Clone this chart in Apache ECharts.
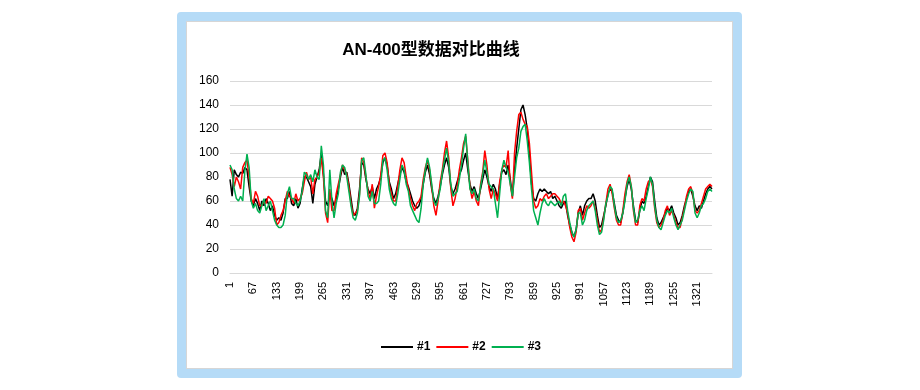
<!DOCTYPE html>
<html>
<head>
<meta charset="utf-8">
<script src="https://cdn.jsdelivr.net/npm/echarts@6/dist/echarts.min.js"></script>
<style>
html,body{margin:0;padding:0;background:#fff;}
#box{position:absolute;left:177px;top:12px;width:547px;height:348px;border:9px solid #b5dbf7;border-radius:4px;}
#inner{position:absolute;left:0;top:0;right:0;bottom:0;border:1px solid #d6d6d6;background:#fff;}
#chart{position:absolute;left:0;top:0;width:920px;height:390px;}
</style>
</head>
<body>
<div id="box"><div id="inner"></div></div>
<div id="chart"></div>
<script>
const titleText = 'AN-400型数据对比曲线';
const seriesNames = ['#1', '#2', '#3'];
const sampleStep = 6;      // one reading every 6 samples
const firstSample = 1;
const yTicks = { min: 0, max: 160, interval: 20 };

const s1 = [78,64,86,82,80,84,83,88,86,72,
60,56,62,58,52,60,56,62,58,52,
56,48,44,46,44,50,62,62,68,58,
56,62,54,58,70,80,80,76,72,58,
74,80,86,100,82,60,56,66,62,56,
62,70,80,88,82,84,74,62,50,48,
54,70,92,90,78,70,66,72,62,70,
74,80,92,96,90,76,70,62,66,74,
82,88,84,76,72,66,60,56,54,56,
62,74,84,90,82,70,62,58,64,72,
82,90,96,88,72,66,70,76,82,86,
94,100,86,74,68,72,66,62,70,78,
86,80,72,68,74,70,62,74,84,86,
82,90,78,64,86,104,120,136,140,132,
120,100,74,62,60,66,70,68,70,68,
66,68,62,64,60,56,54,58,60,48,
40,34,30,36,50,56,48,56,60,62,
62,66,60,48,38,40,48,56,66,70,
68,58,48,44,42,50,62,72,78,70,
56,44,42,52,60,58,64,72,80,76,
60,46,40,42,46,50,54,52,56,50,
46,40,42,48,56,62,68,70,64,56,
52,56,54,60,66,70,72,70];

const s2 = [88,82,72,80,76,70,88,92,94,80,
62,58,68,64,56,56,60,58,64,62,
60,54,40,42,48,52,60,68,64,62,
58,66,60,62,66,76,84,78,80,66,
78,80,84,96,80,50,42,70,52,52,
66,74,82,90,86,82,72,58,48,50,
52,66,96,92,80,68,62,74,54,64,
72,82,98,100,92,74,66,60,60,72,
86,96,92,80,70,62,56,52,58,60,
64,78,88,94,86,72,56,48,60,76,
86,100,110,96,70,56,62,72,86,96,
108,114,94,72,62,68,60,56,74,84,
102,90,70,62,70,66,60,76,86,90,
88,102,74,62,100,118,132,134,128,124,
122,108,84,60,54,56,62,60,64,66,
62,64,66,66,64,62,58,60,56,50,
38,30,26,34,52,54,44,50,56,54,
56,60,54,44,34,36,46,58,70,74,
66,54,44,40,40,52,66,76,82,72,
52,40,40,56,62,60,70,76,78,72,
54,42,38,40,44,52,56,48,52,48,
42,38,38,46,54,64,70,72,66,52,
50,52,58,64,70,72,74,72];

const s3 = [90,86,70,62,60,64,60,85,99,88,
60,54,58,52,50,56,62,52,56,60,
52,44,40,38,38,40,48,66,72,62,
62,58,56,60,68,84,82,78,82,76,
86,80,78,106,90,52,46,86,60,46,
58,66,84,90,88,80,68,56,46,44,
50,64,94,96,82,64,60,68,58,58,
60,74,94,96,86,70,62,58,56,66,
78,90,86,74,68,56,52,48,44,42,
54,74,86,96,88,74,60,56,62,70,
84,94,104,92,74,64,66,68,78,90,
104,116,92,70,66,70,62,60,72,82,
94,84,74,72,70,58,46,66,86,94,
88,84,74,64,80,96,104,118,122,124,
110,92,70,52,46,40,50,58,62,58,
56,60,58,56,58,60,56,64,66,52,
42,34,30,36,50,50,40,44,52,56,
58,60,52,40,32,34,44,58,64,72,
70,56,46,42,44,50,60,74,80,72,
54,42,44,52,56,52,62,70,80,74,
56,44,38,36,42,48,52,50,54,46,
40,36,40,44,52,60,66,70,68,50,
46,50,56,58,62,68,70,68];

const categories = [];
for (let k = 0; k < s1.length; k++) categories.push(String(firstSample + k * sampleStep));

const colors = ['#000000', '#ff0000', '#00b050'];
const chart = echarts.init(document.getElementById('chart'), null, { renderer: 'canvas' });
const font = '"Liberation Sans", Arial, "Noto Sans CJK SC", sans-serif';

chart.setOption({
  backgroundColor: 'transparent',
  animation: false,
  title: {
    text: titleText,
    left: 426, top: 37, textAlign: 'center',
    textStyle: { fontFamily: font, fontSize: 17, fontWeight: 'bold', color: '#000' }
  },
  grid: { left: 230, right: 208, top: 81, bottom: 117, containLabel: false },
  legend: {
    left: 376, top: 336,
    itemWidth: 32, itemHeight: 2, itemGap: 6,
    icon: 'rect',
    data: seriesNames,
    textStyle: { fontFamily: font, fontSize: 12, fontWeight: 'bold', color: '#000', padding: [0, 0, 0, -1] }
  },
  xAxis: {
    type: 'category',
    data: categories,
    boundaryGap: false,
    axisLine: { show: true, lineStyle: { color: '#d9d9d9', width: 1 } },
    axisTick: { show: false },
    axisLabel: {
      interval: 10, rotate: 90, margin: 9,
      fontFamily: font, fontSize: 11, color: '#000'
    },
    splitLine: { show: false }
  },
  yAxis: {
    type: 'value',
    min: yTicks.min, max: yTicks.max, interval: yTicks.interval,
    axisLine: { show: false },
    axisTick: { show: false },
    axisLabel: { margin: 11, fontFamily: font, fontSize: 12, color: '#000' },
    splitLine: { lineStyle: { color: '#d9d9d9', width: 1 } }
  },
  series: [s1, s2, s3].map((d, i) => ({
    name: seriesNames[i],
    type: 'line',
    data: d,
    showSymbol: false,
    symbol: 'none',
    lineStyle: { color: colors[i], width: 1.5 },
    itemStyle: { color: colors[i] },
    z: 2 + i
  }))
});
</script>
</body>
</html>
